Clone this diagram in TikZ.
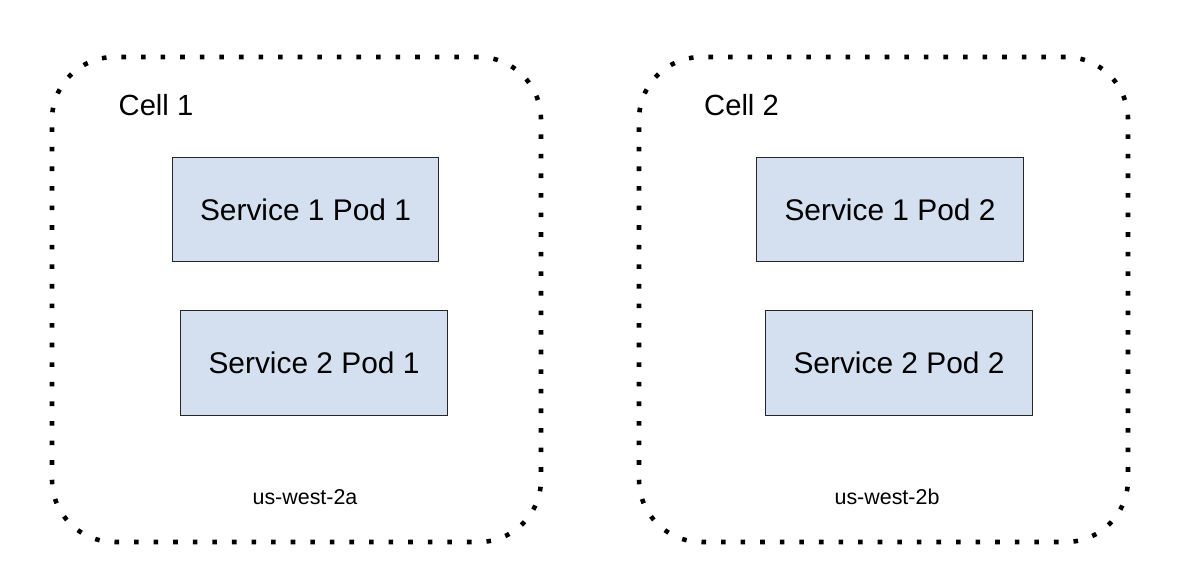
\documentclass[tikz,border=0pt]{standalone}
\usepackage{fontspec}
\setmainfont{Liberation Sans}
\usetikzlibrary{positioning}

\begin{document}
\begin{tikzpicture}
        %colores
        \definecolor{podfill}{RGB}{212,223,240}
        \colorlet{podline}{black!85}

        %estilos
        \tikzset{
            cellbox/.style={draw, line width=2.6pt, line cap=butt, dash pattern=on 2.6pt off 8.543pt,
                rounded corners=1.25cm, minimum width=9.78cm, minimum height=9.7cm, inner sep=0pt},
            podbox/.style={draw=podline, line width=0.8pt, fill=podfill, inner sep=0pt,
                minimum width=5.33cm, minimum height=2.09cm, font=\fontsize{17}{20}\selectfont},
            celltext/.style={font=\fontsize{16.6}{20}\selectfont},
            zonetext/.style={font=\fontsize{12.2}{15}\selectfont}
        }

        % Marco
        \useasboundingbox (0,0) rectangle (24,-11.68);

        % Celdas
        \node[cellbox] (cell1) at (5.93,-5.99) {};
        \node[cellbox] (cell2) at (17.67,-5.99) {};

        % Nombres de celda y zona
        \node[celltext] (cell1name) at (3.12,-2.1) {Cell 1};
        \node[celltext] (cell2name) at (14.83,-2.1) {Cell 2};
        \node[zonetext] (zone1) at (6.10,-9.94) {us-west-2a};
        \node[zonetext] (zone2) at (17.74,-9.94) {us-west-2b};

        % Pods
        \node[podbox] (s1p1) at (6.11,-4.19) {Service 1 Pod 1};
        \node[podbox] (s2p1) at (6.28,-7.26) {Service 2 Pod 1};
        \node[podbox] (s1p2) at (17.80,-4.19) {Service 1 Pod 2};
        \node[podbox] (s2p2) at (17.98,-7.26) {Service 2 Pod 2};
    \end{tikzpicture}
\end{document}
